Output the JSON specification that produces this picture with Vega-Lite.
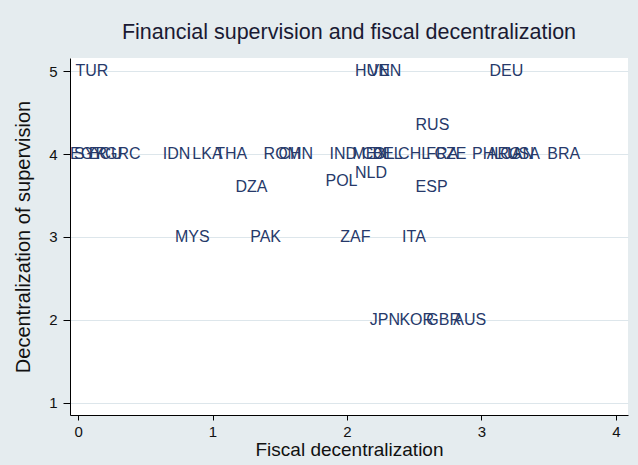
{
  "$schema": "https://vega.github.io/schema/vega-lite/v6.json",
  "width": 558,
  "height": 357,
  "autosize": {"type": "none"},
  "padding": {"left": 70, "top": 58, "right": 10, "bottom": 50},
  "background": "#e5ecef",
  "config": {
    "view": {"fill": "white", "stroke": null},
    "font": "Liberation Sans"
  },
  "title": {
    "text": "Financial supervision and fiscal decentralization",
    "fontSize": 21.5,
    "fontWeight": "normal",
    "color": "#1a1a33",
    "anchor": "middle",
    "offset": 15,
    "font": "Liberation Sans"
  },
  "data": {
    "values": [
      {"country": "TUR", "fiscal": -0.02, "supervision": 5},
      {"country": "HUN", "fiscal": 2.06, "supervision": 5},
      {"country": "VEN", "fiscal": 2.16, "supervision": 5},
      {"country": "DEU", "fiscal": 3.06, "supervision": 5},
      {"country": "RUS", "fiscal": 2.51, "supervision": 4.35},
      {"country": "EGY", "fiscal": -0.06, "supervision": 4},
      {"country": "SYR", "fiscal": -0.03, "supervision": 4},
      {"country": "ECU", "fiscal": 0.08, "supervision": 4},
      {"country": "GRC", "fiscal": 0.2, "supervision": 4},
      {"country": "IDN", "fiscal": 0.63, "supervision": 4},
      {"country": "LKA", "fiscal": 0.85, "supervision": 4},
      {"country": "THA", "fiscal": 1.02, "supervision": 4},
      {"country": "ROM", "fiscal": 1.38, "supervision": 4},
      {"country": "CHN", "fiscal": 1.49, "supervision": 4},
      {"country": "IND", "fiscal": 1.87, "supervision": 4},
      {"country": "MEX", "fiscal": 2.04, "supervision": 4},
      {"country": "COL", "fiscal": 2.11, "supervision": 4},
      {"country": "BEL", "fiscal": 2.19, "supervision": 4},
      {"country": "CHL", "fiscal": 2.38, "supervision": 4},
      {"country": "FRA", "fiscal": 2.59, "supervision": 4},
      {"country": "CZE", "fiscal": 2.65, "supervision": 4},
      {"country": "PHL", "fiscal": 2.93, "supervision": 4},
      {"country": "ARG", "fiscal": 3.04, "supervision": 4},
      {"country": "CAN", "fiscal": 3.14, "supervision": 4},
      {"country": "USA", "fiscal": 3.19, "supervision": 4},
      {"country": "BRA", "fiscal": 3.49, "supervision": 4},
      {"country": "POL", "fiscal": 1.84, "supervision": 3.68},
      {"country": "NLD", "fiscal": 2.06, "supervision": 3.77},
      {"country": "ESP", "fiscal": 2.51, "supervision": 3.6},
      {"country": "DZA", "fiscal": 1.17, "supervision": 3.6},
      {"country": "MYS", "fiscal": 0.72, "supervision": 3},
      {"country": "PAK", "fiscal": 1.28, "supervision": 3},
      {"country": "ZAF", "fiscal": 1.95, "supervision": 3},
      {"country": "ITA", "fiscal": 2.41, "supervision": 3},
      {"country": "JPN", "fiscal": 2.17, "supervision": 2},
      {"country": "KOR", "fiscal": 2.39, "supervision": 2},
      {"country": "GBR", "fiscal": 2.59, "supervision": 2},
      {"country": "AUS", "fiscal": 2.79, "supervision": 2}
    ]
  },
  "mark": {
    "type": "text",
    "align": "left",
    "baseline": "middle",
    "fontSize": 16,
    "color": "#26396a"
  },
  "encoding": {
    "x": {
      "field": "fiscal",
      "type": "quantitative",
      "scale": {"domain": [-0.06, 4.09], "nice": false, "zero": false},
      "axis": {
        "values": [0, 1, 2, 3, 4],
        "format": "d",
        "grid": false,
        "domainColor": "#000000",
        "tickColor": "#000000",
        "tickSize": 5,
        "labelFontSize": 15,
        "labelColor": "#111111",
        "labelPadding": 4,
        "title": "Fiscal decentralization",
        "titleFontSize": 19,
        "titleFontWeight": "normal",
        "titleColor": "#111111",
        "titlePadding": 1
      }
    },
    "y": {
      "field": "supervision",
      "type": "quantitative",
      "scale": {"domain": [0.855, 5.157], "nice": false, "zero": false},
      "axis": {
        "values": [1, 2, 3, 4, 5],
        "format": "d",
        "grid": true,
        "gridColor": "#dde6eb",
        "domainColor": "#000000",
        "tickColor": "#000000",
        "tickSize": 7,
        "labelFontSize": 15,
        "labelColor": "#111111",
        "labelPadding": 6,
        "title": "Decentralization of supervision",
        "titleFontSize": 20,
        "titleFontWeight": "normal",
        "titleColor": "#111111",
        "titlePadding": 15
      }
    },
    "text": {"field": "country", "type": "nominal"}
  }
}
